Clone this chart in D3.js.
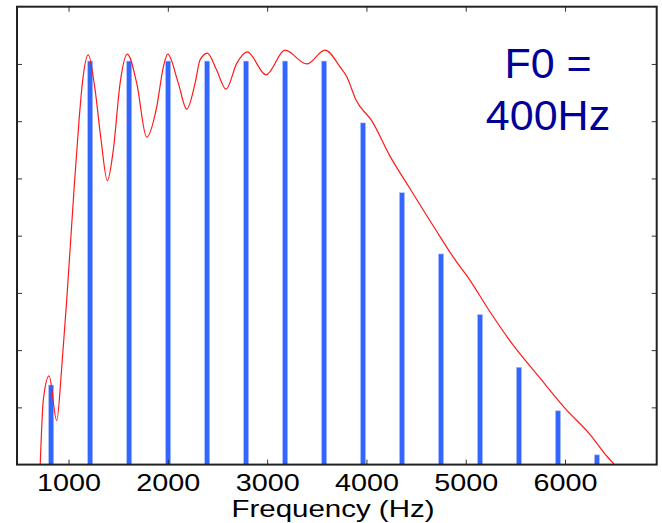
<!DOCTYPE html>
<html>
<head>
<meta charset="utf-8">
<script src="https://cdn.jsdelivr.net/npm/d3@7/dist/d3.min.js"></script>
<style>
  body { margin: 0; background: #fff; }
  svg { display: block; }
</style>
</head>
<body>
<div id="chart"></div>
<script>
// tick values
const xTicks = [1000, 2000, 3000, 4000, 5000, 6000];
const yTicks = [10, 20, 30, 40, 50, 60, 70];

// harmonics (Hz, level dB)
const harmonicFreqs = [825, 1218, 1611, 2003, 2396, 2788, 3181, 3574, 3966, 4358, 4751, 5144, 5536, 5929, 6321];
const harmonicLevels = [13.9, 70.5, 70.5, 70.5, 70.5, 70.5, 70.5, 70.5, 59.7, 47.5, 36.8, 26.2, 17.0, 9.4, 1.7];

// spectral envelope (red curve)
const envelopeFreqs = [715, 746, 804, 881, 932, 982, 1055, 1106, 1139, 1199, 1267, 1327, 1391, 1451, 1519, 1592,
    1687, 1787, 1888, 1955, 1999, 2106, 2190, 2274, 2324, 2398, 2492, 2586, 2694, 2800, 2989, 3180, 3399, 3583,
    3734, 3801, 3895, 4056, 4237, 4439, 4691, 4892, 5043, 5244, 5476, 5748, 6017, 6250, 6419, 6493];
const envelopeLevels = [0, 11.3, 15.5, 7.7, 17.1, 28.8, 48.0, 60.2, 66.6, 71.6, 65.5, 56.8, 49.6, 55.0, 66.6, 71.7,
    66.6, 57.2, 62.5, 69.5, 71.7, 66.6, 62.1, 66.6, 70.7, 71.9, 68.9, 65.6, 70.1, 72.1, 68.1, 72.4, 70.0, 72.4,
    69.5, 67.8, 63.7, 60.0, 53.9, 48.2, 41.2, 35.8, 32.2, 26.7, 20.9, 15.1, 9.5, 5.3, 1.5, 0.1];

const annotationLines = ["F0 =", "400Hz"];
const xLabel = "Frequency (Hz)";

const width = 662;
const height = 523;
const plot = { left: 17, right: 656.7, top: 6.7, bottom: 464.6 };

const x = d3.scaleLinear().domain([481, 6923]).range([plot.left, plot.right]);
const y = d3.scaleLinear().domain([0, 80]).range([plot.bottom, plot.top]);

const svg = d3.select("#chart")
    .append("svg")
    .attr("width", width)
    .attr("height", height)
    .attr("viewBox", `0 0 ${width} ${height}`);

const fontFamily = "'Liberation Sans', Arial, sans-serif";

// harmonic bars
const barWidth = 5;
svg.append("g")
    .attr("class", "bars")
    .selectAll("rect")
    .data(harmonicFreqs.map((f, i) => ({ f, v: harmonicLevels[i] })))
    .join("rect")
    .attr("x", d => x(d.f) - barWidth / 2)
    .attr("y", d => y(d.v))
    .attr("width", barWidth)
    .attr("height", d => y(0) - y(d.v))
    .attr("fill", "#3366ff")
    .attr("stroke", "#a9bffc")
    .attr("stroke-width", 0.6);

// envelope
const envelope = envelopeFreqs.map((f, i) => ({ f, v: envelopeLevels[i] }));
const line = d3.line()
    .x(d => x(d.f))
    .y(d => y(d.v))
    .curve(d3.curveMonotoneX);

svg.append("path")
    .datum(envelope)
    .attr("fill", "none")
    .attr("stroke", "#ff1a1a")
    .attr("stroke-width", 1.2)
    .attr("d", line);

// ticks, pointing inward on all four sides
const styleTicks = g => {
    g.select(".domain").remove();
    g.selectAll(".tick line").attr("stroke", "#333").attr("stroke-width", 1);
};

svg.append("g")
    .attr("transform", `translate(0, ${plot.bottom})`)
    .call(d3.axisBottom(x).tickValues(xTicks).tickSize(-5).tickSizeOuter(0).tickPadding(9).tickFormat(d3.format("d")))
    .call(styleTicks)
    .call(g => g.selectAll(".tick text")
        .attr("fill", "#000")
        .style("font-family", fontFamily)
        .style("font-size", "24px")
        .attr("textLength", 64)
        .attr("lengthAdjust", "spacingAndGlyphs"));

svg.append("g")
    .attr("transform", `translate(0, ${plot.top})`)
    .call(d3.axisTop(x).tickValues(xTicks).tickSize(-5).tickSizeOuter(0).tickFormat(""))
    .call(styleTicks);

svg.append("g")
    .attr("transform", `translate(${plot.left}, 0)`)
    .call(d3.axisLeft(y).tickValues(yTicks).tickSize(-5).tickSizeOuter(0).tickFormat(""))
    .call(styleTicks);

svg.append("g")
    .attr("transform", `translate(${plot.right}, 0)`)
    .call(d3.axisRight(y).tickValues(yTicks).tickSize(-5).tickSizeOuter(0).tickFormat(""))
    .call(styleTicks);

// frame
svg.append("rect")
    .attr("x", plot.left)
    .attr("y", plot.top)
    .attr("width", plot.right - plot.left)
    .attr("height", plot.bottom - plot.top)
    .attr("fill", "none")
    .attr("stroke", "#222")
    .attr("stroke-width", 2);

// x label
svg.append("text")
    .attr("x", 333)
    .attr("y", 517)
    .attr("text-anchor", "middle")
    .attr("fill", "#000")
    .style("font-family", fontFamily)
    .style("font-size", "24px")
    .attr("textLength", 203)
    .attr("lengthAdjust", "spacingAndGlyphs")
    .text(xLabel);

// annotation
svg.append("g")
    .selectAll("text")
    .data(annotationLines)
    .join("text")
    .attr("x", 548)
    .attr("y", (d, i) => 78 + i * 51.5)
    .attr("text-anchor", "middle")
    .attr("fill", "#000099")
    .style("font-family", fontFamily)
    .style("font-size", "43px")
    .text(d => d);
</script>
</body>
</html>
